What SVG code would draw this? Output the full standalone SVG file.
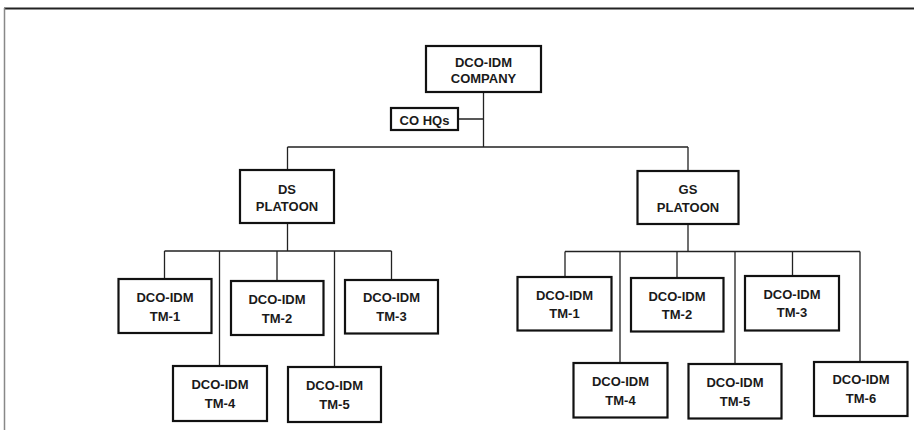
<svg xmlns="http://www.w3.org/2000/svg" width="914" height="430" viewBox="0 0 914 430">
<style>
.box{fill:#fff;stroke:#111;stroke-width:2.2}
.t{font-family:"Liberation Sans",Arial,sans-serif;font-weight:bold;font-size:13px;fill:#1a1a1a;text-anchor:middle}
.c{fill:none;stroke:#222;stroke-width:1.3}
</style>
<rect width="914" height="430" fill="#fff"/>
<g id="frame">
<line x1="4" y1="8.5" x2="914" y2="8.5" stroke="#222" stroke-width="2"/>
<line x1="4.5" y1="8" x2="4.5" y2="430" stroke="#888" stroke-width="1.5"/>
</g>
<g id="connectors" class="c">
<path d="M483.5 92V147M458 119H483.5M287.5 147H688M287.5 147V170M688 147V171"/>
<path d="M287.5 223V251M164.5 251H391.5M164.5 251V279M219.5 251V366M277 251V281M334.5 251V367M391.5 251V280"/>
<path d="M688 224V251.5M565 251.5H860M565 251.5V277M620 251.5V363M677 251.5V278M735 251.5V364M792.5 251.5V276M860 251.5V362"/>
</g>
<g id="company"><rect class="box" x="426" y="46" width="115" height="46"/><text class="t" x="483.5" y="66.5">DCO-IDM</text><text class="t" x="483.5" y="83">COMPANY</text></g>
<g id="cohqs"><rect class="box" x="391" y="108" width="67" height="22"/><text class="t" x="424.5" y="124.5">CO HQs</text></g>
<g id="ds-platoon"><rect class="box" x="240" y="170" width="94" height="53"/><text class="t" x="287" y="193.5">DS</text><text class="t" x="287" y="211">PLATOON</text></g>
<g id="gs-platoon"><rect class="box" x="637.5" y="171" width="101" height="53"/><text class="t" x="688" y="194">GS</text><text class="t" x="688" y="211.5">PLATOON</text></g>
<g id="ds-tm1"><rect class="box" x="118.5" y="279" width="93" height="54"/><text class="t" x="165" y="302">DCO-IDM</text><text class="t" x="165" y="320.5">TM-1</text></g>
<g id="ds-tm2"><rect class="box" x="231" y="281" width="92.5" height="54"/><text class="t" x="277" y="304">DCO-IDM</text><text class="t" x="277" y="322.5">TM-2</text></g>
<g id="ds-tm3"><rect class="box" x="345" y="280" width="93" height="53.5"/><text class="t" x="391.5" y="302">DCO-IDM</text><text class="t" x="391.5" y="320.5">TM-3</text></g>
<g id="ds-tm4"><rect class="box" x="173" y="366" width="94" height="55"/><text class="t" x="220" y="388.5">DCO-IDM</text><text class="t" x="220" y="407.5">TM-4</text></g>
<g id="ds-tm5"><rect class="box" x="288" y="367" width="93" height="55"/><text class="t" x="334.5" y="389.5">DCO-IDM</text><text class="t" x="334.5" y="408.5">TM-5</text></g>
<g id="gs-tm1"><rect class="box" x="517.5" y="277" width="94" height="53.5"/><text class="t" x="564.5" y="299.5">DCO-IDM</text><text class="t" x="564.5" y="318">TM-1</text></g>
<g id="gs-tm2"><rect class="box" x="631" y="278" width="92.5" height="53.5"/><text class="t" x="677" y="300.5">DCO-IDM</text><text class="t" x="677" y="319">TM-2</text></g>
<g id="gs-tm3"><rect class="box" x="745" y="276" width="94" height="54.5"/><text class="t" x="792" y="298.5">DCO-IDM</text><text class="t" x="792" y="317">TM-3</text></g>
<g id="gs-tm4"><rect class="box" x="573.5" y="363" width="94" height="54.5"/><text class="t" x="620.5" y="385.5">DCO-IDM</text><text class="t" x="620.5" y="404.5">TM-4</text></g>
<g id="gs-tm5"><rect class="box" x="688.5" y="364" width="93" height="54.5"/><text class="t" x="735" y="386.5">DCO-IDM</text><text class="t" x="735" y="405.5">TM-5</text></g>
<g id="gs-tm6"><rect class="box" x="814" y="362" width="93.5" height="54"/><text class="t" x="861" y="384">DCO-IDM</text><text class="t" x="861" y="403">TM-6</text></g>
</svg>
